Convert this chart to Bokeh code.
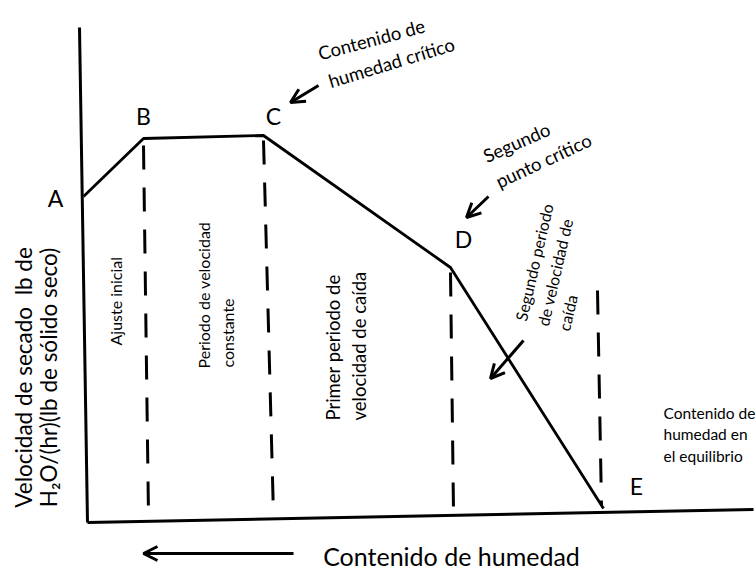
from bokeh.plotting import figure
from bokeh.models import Range1d, Arrow, OpenHead
from bokeh.core.properties import value
from bokeh.embed import file_html
from bokeh.resources import INLINE

FONT = "Lato"

# Drying-rate curve points A..E (x: moisture position, y: drying rate)
point_names = ["A", "B", "C", "D", "E"]
curve_x = [-4, 56, 176, 363, 516]
curve_y = [326, 384, 387, 255, 14]
name_x = [-32, 56, 186, 376, 549]
name_y = [325, 407, 407, 284, 37]

# dashed period boundaries
bound_x0 = [56, 176, 363, 510]
bound_y0 = [377, 382, 250, 232]
bound_x1 = [61, 186, 366, 514]
bound_y1 = [7, 7, 12, 17]

# axes
yaxis_x = [-8, 0]
yaxis_y = [495, 0]
xaxis_x = [0, 666]
xaxis_y = [0, 13]

# vertical period labels (each line)
period_text = ["Ajuste inicial", "Periodo de velocidad", "constante",
               "Primer periodo de", "velocidad de caída",
               "Segundo periodo", "de velocidad de", "caída"]
period_x = [28, 116, 140, 245, 271, 433, 455, 476]
period_y = [177, 154, 155, 102, 102, 202, 197, 192]
period_angle = [90, 90, 90, 90, 90, 77, 77, 77]
period_size = ["16px", "16px", "16px", "18.5px", "18.5px", "16px", "16px", "16px"]

# tilted annotations
note_text = ["Contenido de", "humedad crítico", "Segundo", "punto crítico"]
note_x = [284, 304, 429, 456]
note_y = [483, 460, 380, 362]
note_angle = [15, 17, 24, 25]

eq_text = ["Contenido de", "humedad en", "el equilibrio"]
eq_x = [576, 576, 576]
eq_y = [110, 89, 67]

ylabel_text = ["Velocidad de secado\u00a0\u00a0lb de", "H₂O/(hr)(lb de sólido seco)"]
ylabel_x = [-64, -39]
ylabel_y = [145, 145]

xlabel_text = "Contenido de humedad"
xlabel_x = 364
xlabel_y = -33

# arrows: (x_start, y_start, x_end, y_end)
arrows = [(231, 437, 203, 420), (401, 326, 379, 305), (436, 182, 403, 144),
          (206, -31, 56, -31)]

p = figure(width=756, height=571, output_backend="svg", toolbar_location=None,
           x_range=Range1d(-87, 669), y_range=Range1d(-49, 522),
           x_axis_location=None, y_axis_location=None, min_border=0,
           background_fill_color="white", border_fill_color="white")
p.grid.visible = False
p.outline_line_color = None

p.line(yaxis_x, yaxis_y, line_color="black", line_width=3)
p.line(xaxis_x, xaxis_y, line_color="black", line_width=3)
p.line(curve_x, curve_y, line_color="black", line_width=2.8)
p.segment(bound_x0, bound_y0, bound_x1, bound_y1, line_color="black",
          line_width=3, line_dash="24 18")

p.text(name_x, name_y, text=point_names, text_font=value(FONT),
       text_font_size="23px", text_align="center", text_baseline="middle",
       text_color="black")

for t, x, y, a, s in zip(period_text, period_x, period_y, period_angle, period_size):
    p.text([x], [y], text=[t], angle=a, angle_units="deg", text_font=value(FONT),
           text_font_size=s, text_align="left", text_baseline="middle",
           text_color="black")

p.text(note_x, note_y, text=note_text, angle=note_angle, angle_units="deg",
       text_font=value(FONT), text_font_size="18.5px", text_align="center",
       text_baseline="middle", text_color="black")

p.text(eq_x, eq_y, text=eq_text, text_font=value(FONT), text_font_size="15.5px",
       text_align="left", text_baseline="middle", text_color="black")

p.text(ylabel_x, ylabel_y, text=ylabel_text, angle=90, angle_units="deg",
       text_font=value(FONT), text_font_size="22.5px", text_align="center",
       text_baseline="middle", text_color="black")

p.text([xlabel_x], [xlabel_y], text=[xlabel_text], text_font=value(FONT),
       text_font_size="25px", text_align="center", text_baseline="middle",
       text_color="black")

for (xs, ys, xe, ye) in arrows:
    p.add_layout(Arrow(end=OpenHead(size=14, line_width=3, line_color="black"),
                       x_start=xs, y_start=ys, x_end=xe, y_end=ye,
                       line_width=3, line_color="black"))

open("out.html", "w").write(file_html(p, INLINE))
